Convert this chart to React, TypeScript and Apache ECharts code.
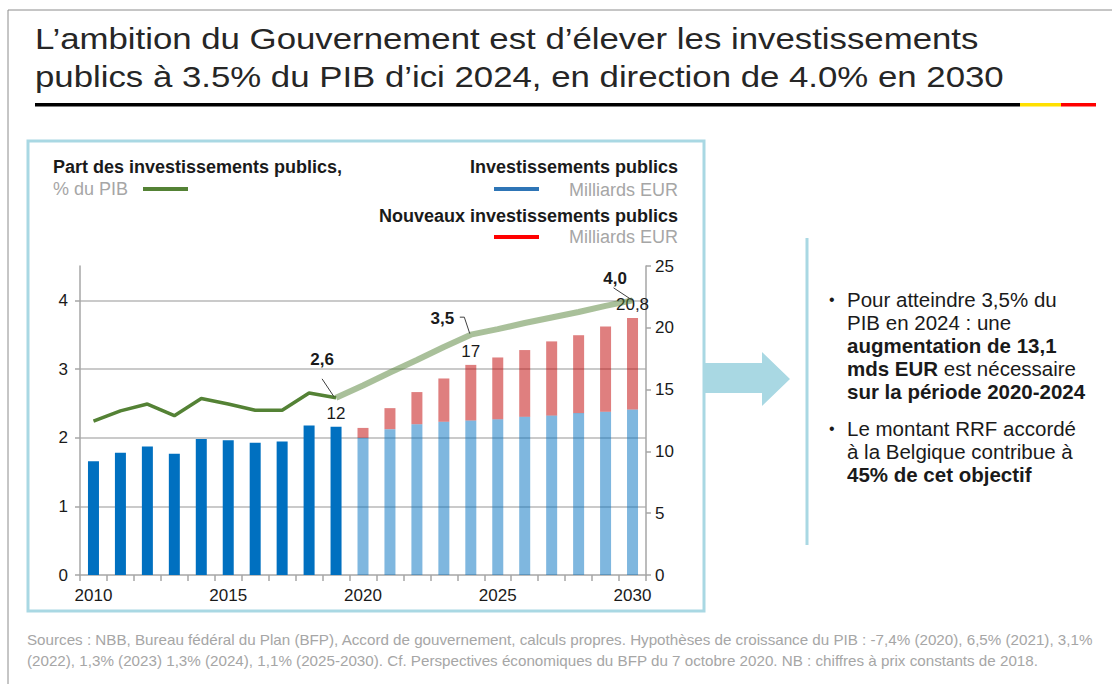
import React, { useEffect, useRef } from "react";
import * as echarts from "echarts";

const years = ["2010","2011","2012","2013","2014","2015","2016","2017","2018","2019","2020","2021","2022","2023","2024","2025","2026","2027","2028","2029","2030"];
// Investissements publics réalisés (Mds EUR), 2010-2019
const histInvest = [9.2, 9.9, 10.4, 9.8, 11.0, 10.9, 10.7, 10.8, 12.1, 12.0];
// Investissements publics (base projetée), 2020-2030
const projInvest = [11.1, 11.8, 12.2, 12.4, 12.5, 12.6, 12.8, 12.9, 13.1, 13.2, 13.4];
// Nouveaux investissements publics, 2020-2030
const newInvest = [0.8, 1.7, 2.6, 3.5, 4.5, 5.0, 5.4, 6.0, 6.3, 6.9, 7.4];
// Part des investissements publics, % du PIB
const shareHist = [2.24, 2.39, 2.49, 2.32, 2.57, 2.49, 2.40, 2.40, 2.65, 2.58];
const shareTarget = [2.58, 2.76, 2.95, 3.13, 3.32, 3.5, 3.58, 3.67, 3.75, 3.83, 3.92, 4.0];
const barLabelIdx = [9, 14, 20];
const lineLabelIdx = [9, 14, 20];

const FONT = '"Liberation Sans", Arial, sans-serif';
const BOX = "#A9D8E3";
const fmt = (v: number) => {
  const r = Math.round(v * 10) / 10;
  return (Number.isInteger(r) ? String(r) : r.toFixed(1)).replace(".", ",");
};

export default function App() {
  const ref = useRef<HTMLDivElement>(null);
  useEffect(() => {
    if (!ref.current) return;
    const chart = echarts.init(ref.current, undefined, { renderer: "svg" });
    const nHist = histInvest.length;
    const total = (i: number) => (i < nHist ? histInvest[i] : projInvest[i - nHist] + newInvest[i - nHist]);

    const baseData = years.map((_, i) => {
      const v = i < nHist ? histInvest[i] : projInvest[i - nHist];
      const item: any = { value: v, itemStyle: { color: i < nHist ? "#0070C0" : "rgba(0,112,192,0.5)" } };
      if (i < nHist && barLabelIdx.includes(i)) {
        item.label = { show: true, position: "top", distance: 5, formatter: () => fmt(total(i)) };
      }
      return item;
    });
    const redData = years.map((_, i) => {
      if (i < nHist) return "-";
      const item: any = { value: newInvest[i - nHist] };
      if (barLabelIdx.includes(i)) {
        item.label = { show: true, position: "top", distance: 5, formatter: () => fmt(total(i)) };
      }
      return item;
    });
    const histLine = years.map((_, i) => (i < nHist ? shareHist[i] : "-"));
    const targetLine = years.map((_, i) => (i >= nHist - 1 ? shareTarget[i - (nHist - 1)] : "-"));

    const t = (text: string, x: number, y: number, size: number, opts: any = {}) => ({
      type: "text",
      x, y,
      style: {
        text, fontSize: size, fontFamily: FONT, fill: opts.fill || "#1a1a1a",
        fontWeight: opts.bold ? "bold" : "normal",
        align: opts.align || "left", verticalAlign: "middle",
        rich: opts.rich,
      },
      scaleX: opts.scaleX || 1,
      silent: true,
    });
    const rect = (x: number, y: number, w: number, h: number, fill: string) => ({
      type: "rect", shape: { x, y, width: w, height: h }, style: { fill }, silent: true,
    });
    const line = (x1: number, y1: number, x2: number, y2: number, stroke: string, lw: number) => ({
      type: "line", shape: { x1, y1, x2, y2 }, style: { stroke, lineWidth: lw }, silent: true,
    });

    const richB = {
      n: { fontSize: 20.5, fontFamily: FONT, fill: "#1a1a1a" },
      b: { fontSize: 20.5, fontFamily: FONT, fill: "#1a1a1a", fontWeight: "bold" },
    };
    const bl = (text: string, y: number) => t(text, 847, y, 20.5, { rich: richB });
    const LG = 18;

    const staticGraphics: any[] = [
      line(8, 10, 1112, 10, "#8c8c8c", 1),
      line(8, 10, 8, 684, "#8c8c8c", 1),
      t("L’ambition du Gouvernement est d’élever les investissements", 35, 39, 30, { scaleX: 1.16, fill: "#262626" }),
      t("publics à 3.5% du PIB d’ici 2024, en direction de 4.0% en 2030", 35, 77, 30, { scaleX: 1.16, fill: "#262626" }),
      rect(35, 103, 985, 3.5, "#000000"),
      rect(1020, 103, 41, 3.5, "#FFE000"),
      rect(1061, 103, 35, 3.5, "#FF0000"),
      { type: "rect", shape: { x: 28, y: 141, width: 676, height: 470 }, style: { fill: "none", stroke: BOX, lineWidth: 3 }, silent: true },
      t("Part des investissements publics,", 53, 167, LG, { bold: true }),
      t("% du PIB", 53, 189, LG, { fill: "#A6A6A6" }),
      line(143, 189, 188, 189, "#548235", 4),
      t("Investissements publics", 678, 167, LG, { bold: true, align: "right" }),
      line(494, 189, 539, 189, "#2E75B6", 4),
      t("Milliards EUR", 678, 190, LG, { fill: "#A6A6A6", align: "right" }),
      t("Nouveaux investissements publics", 678, 216, LG, { bold: true, align: "right" }),
      line(494, 237, 539, 237, "#FF0000", 4),
      t("Milliards EUR", 678, 237, LG, { fill: "#A6A6A6", align: "right" }),
      { type: "polygon", shape: { points: [[704, 363], [762, 363], [762, 352], [790, 379], [762, 406], [762, 393], [704, 393]] }, style: { fill: BOX }, silent: true },
      line(807, 238, 807, 545, BOX, 3),
      t("•", 829, 299, 16),
      bl("{n|Pour atteindre 3,5% du}", 299),
      bl("{n|PIB en 2024 : une}", 322),
      bl("{b|augmentation de 13,1}", 345),
      bl("{b|mds EUR}{n| est nécessaire}", 368),
      bl("{b|sur la période 2020-2024}", 391),
      t("•", 829, 428, 16),
      bl("{n|Le montant RRF accordé}", 428),
      bl("{n|à la Belgique contribue à}", 451),
      bl("{b|45% de cet objectif}", 474),
      t("Sources : NBB, Bureau fédéral du Plan (BFP), Accord de gouvernement, calculs propres. Hypothèses de croissance du PIB : -7,4% (2020), 6,5% (2021), 3,1%", 27, 640, 14, { fill: "#A6A6A6", scaleX: 1.085 }),
      t("(2022), 1,3% (2023) 1,3% (2024), 1,1% (2025-2030). Cf. Perspectives économiques du BFP du 7 octobre 2020. NB : chiffres à prix constants de 2018.", 27, 661, 14, { fill: "#A6A6A6", scaleX: 1.085 }),
    ];

    const axisColor = "#A6A6A6";
    const labelStyle = { fontSize: 17, fontFamily: FONT, color: "#1a1a1a" };

    chart.setOption({
      animation: false,
      backgroundColor: "#ffffff",
      textStyle: { fontFamily: FONT },
      grid: { left: 80, right: 1112 - 646, top: 266, bottom: 684 - 575, containLabel: false },
      xAxis: {
        type: "category",
        data: years,
        boundaryGap: true,
        axisLine: { show: true, lineStyle: { color: axisColor, width: 1.5 } },
        axisTick: { show: true, interval: 0, length: 6, lineStyle: { color: axisColor, width: 1.5 } },
        axisLabel: { ...labelStyle, interval: 4, margin: 12 },
        splitLine: { show: false },
      },
      yAxis: [
        {
          type: "value", position: "left", min: 0, max: 4.5, interval: 1,
          axisLine: { show: true, lineStyle: { color: axisColor, width: 1.5 } },
          axisTick: { show: true, length: 5, lineStyle: { color: axisColor, width: 1.5 } },
          axisLabel: { ...labelStyle, margin: 12, showMaxLabel: false, formatter: (v: number) => (Number.isInteger(v) ? String(v) : "") },
          splitLine: { show: true, showMinLine: false, showMaxLine: false, lineStyle: { color: "#B8B8B8", width: 1.5 } },
        },
        {
          type: "value", position: "right", min: 0, max: 25, interval: 5,
          axisLine: { show: true, lineStyle: { color: axisColor, width: 1.5 } },
          axisTick: { show: true, length: 5, lineStyle: { color: axisColor, width: 1.5 } },
          axisLabel: { ...labelStyle, margin: 9 },
          splitLine: { show: false },
        },
      ],
      series: [
        {
          name: "Investissements publics", type: "bar", yAxisIndex: 1, stack: "inv", barWidth: 11,
          data: baseData,
          label: { show: false, fontSize: 17, fontFamily: FONT, color: "#1a1a1a" },
        },
        {
          name: "Nouveaux investissements publics", type: "bar", yAxisIndex: 1, stack: "inv", barWidth: 11,
          itemStyle: { color: "rgba(192,0,0,0.5)" },
          data: redData,
          label: { show: false, fontSize: 17, fontFamily: FONT, color: "#1a1a1a" },
        },
        {
          name: "Part hist", type: "line", yAxisIndex: 0, data: histLine, symbol: "none",
          lineStyle: { color: "#548235", width: 3.5 }, z: 4,
        },
        {
          name: "Part cible", type: "line", yAxisIndex: 0, data: targetLine, symbol: "none",
          lineStyle: { color: "rgba(84,130,53,0.5)", width: 6 }, z: 3,
        },
      ],
      graphic: { elements: staticGraphics },
    });

    // annotations for the line values, placed from the data through the chart's scales
    const allShare = years.map((_, i) => (i < nHist ? shareHist[i] : shareTarget[i - (nHist - 1)]));
    const ann: any[] = [];
    const offsets: Record<number, any> = {
      9: { tx: -14, ty: -38, pts: [[-14, -19], [-2, -1]] },
      14: { tx: -28.5, ty: -16, pts: [[-11, -17.5], [-6.5, -17.5], [-1, -1]] },
      20: { tx: -17.5, ty: -22, pts: [[-19, -12.5], [0, 0]] },
    };
    lineLabelIdx.forEach((i) => {
      const v = allShare[i];
      const p = chart.convertToPixel({ seriesIndex: 2 }, [i, v]) as number[];
      const o = offsets[i];
      ann.push(t(fmt(v).includes(",") ? fmt(v) : fmt(v) + ",0", p[0] + o.tx, p[1] + o.ty, 17, { bold: true, align: "center" }));
      ann.push({
        type: "polyline",
        shape: { points: o.pts.map((q: number[]) => [p[0] + q[0], p[1] + q[1]]) },
        style: { stroke: "#404040", lineWidth: 1, fill: "none" },
        silent: true, z: 10,
      });
    });
    chart.setOption({ graphic: { elements: [...staticGraphics, ...ann] } });

    return () => chart.dispose();
  }, []);

  return (
    <div
      ref={ref}
      style={{ position: "absolute", left: 0, top: 0, width: 1112, height: 684, background: "#fff" }}
    />
  );
}
